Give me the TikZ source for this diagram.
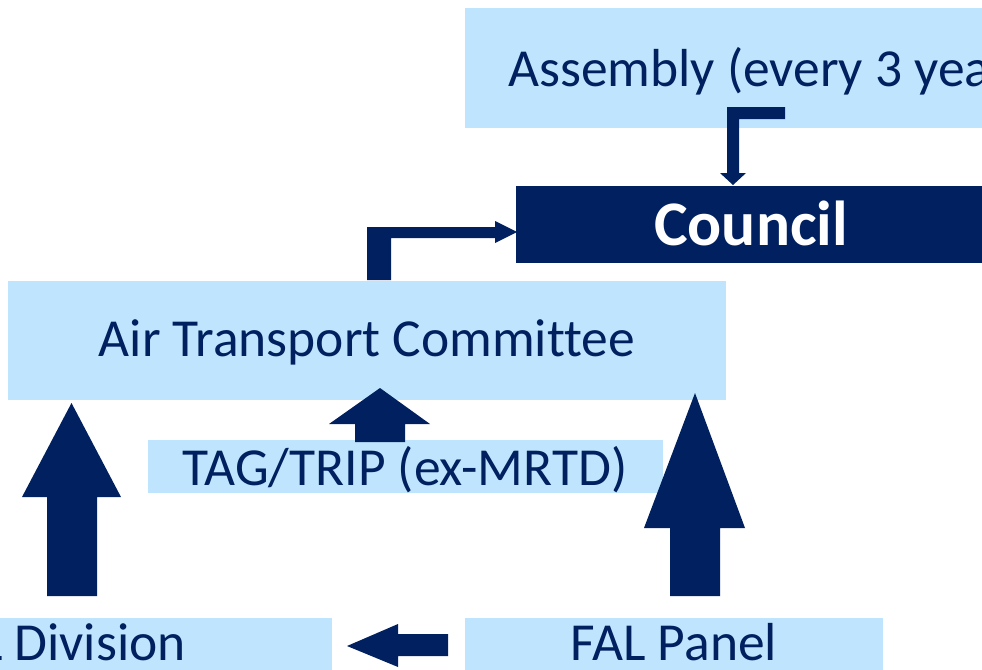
\documentclass[tikz,border=0pt]{standalone}
\usepackage{fontspec}
\setmainfont[Ligatures=CommonOff]{Carlito}
\definecolor{navy}{RGB}{0,32,96}
\definecolor{lblue}{RGB}{190,229,253}
\begin{document}
\begin{tikzpicture}[x=1pt,y=-1pt,
  box/.style={fill=lblue,draw=none,inner sep=0pt,anchor=north west},
  arr/.style={fill=navy,draw=none},
  txt/.style={text=navy,font=\fontsize{53.5}{60}\selectfont,inner sep=0pt}]
\useasboundingbox (0,0) rectangle (982,669);
\clip (0,0) rectangle (982,669);
% boxes
\node[box,minimum width=545pt,minimum height=120pt] (asm) at (465,8) {};
\node[box,fill=navy,minimum width=480pt,minimum height=77pt] (council) at (516,186) {};
\node[box,minimum width=718pt,minimum height=119pt] (atc) at (8,281) {};
\node[box,minimum width=515pt,minimum height=53pt] (tag) at (148,440) {};
\node[box,minimum width=482pt,minimum height=80pt] (div) at (-150,618) {};
\node[box,minimum width=418pt,minimum height=80pt] (panel) at (465,618) {};
% texts
\node[txt,anchor=base west] (asmT) at (508,86) {Assembly (every 3 years)};
\node[inner sep=0pt,anchor=base,text=white,font=\bfseries\fontsize{63.5}{70}\selectfont] (councilT) at (751,245) {Council};
\node[txt,anchor=base] (atcT) at (367,356) {Air Transport Committee};
\node[txt,anchor=base] (tagT) at (405,485) {TAG/TRIP (ex-MRTD)};
\node[txt,anchor=base east] (divT) at (186,660) {FAL Division};
\node[txt,anchor=base] (panelT) at (674,660) {FAL Panel};
% arrows
\fill[arr] (47,596) -- (47,497) -- (22,497) -- (71.5,403) -- (121,497) -- (97,497) -- (97,596) -- cycle;
\fill[arr] (670,596) -- (670,528) -- (644,528) -- (695,393) -- (745,528) -- (720,528) -- (720,596) -- cycle;
\fill[arr] (355,442) -- (355,424) -- (329,424) -- (380,388) -- (430,424) -- (405,424) -- (405,442) -- cycle;
\fill[arr] (448,634) -- (398,634) -- (398,624) -- (347,646) -- (398,667) -- (398,656) -- (448,656) -- cycle;
\fill[arr] (367,280) -- (367,227) -- (495,227) -- (495,221) -- (517,232) -- (495,243) -- (495,238) -- (391,238) -- (391,280) -- cycle;
\fill[arr] (785,107) -- (727,107) -- (727,173) -- (720,173) -- (733,185) -- (746,173) -- (739,173) -- (739,119) -- (785,119) -- cycle;
\end{tikzpicture}
\end{document}
